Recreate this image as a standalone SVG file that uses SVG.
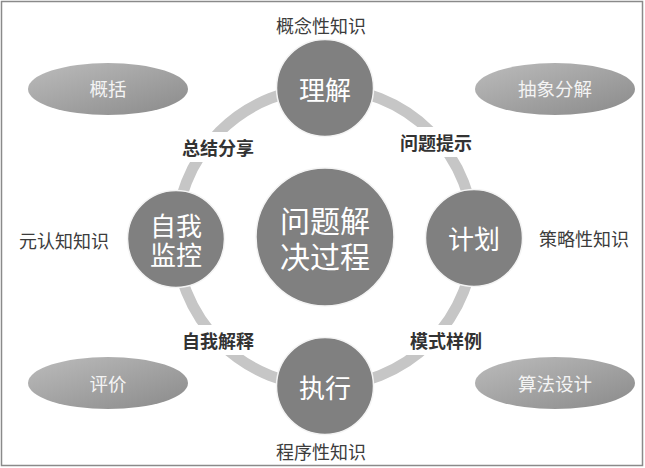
<svg xmlns="http://www.w3.org/2000/svg" width="645" height="468" viewBox="0 0 645 468">
  <style>
    text { font-family: "Noto Sans CJK SC", "Microsoft YaHei", sans-serif; text-anchor: middle; dominant-baseline: central; }
    .node { fill: #808080; stroke: #f4f4f4; stroke-width: 1.5; }
    .ntext { fill: #ffffff; font-size: 26px; }
    .ctext { fill: #ffffff; font-size: 30px; }
    .ell { fill: url(#eg); }
    .etext { fill: #f4f4f4; font-size: 18.5px; }
    .label { fill: #3c3c3c; font-size: 18px; }
    .elabel { fill: #333333; font-size: 18px; font-weight: bold; }
    .lbg { fill: #ffffff; }
    .ring { fill: none; stroke: #c6c6c6; stroke-width: 11; }
  </style>
  <defs>
    <linearGradient id="eg" x1="0" y1="0" x2="1" y2="1">
      <stop offset="0" stop-color="#bcbcbc"/>
      <stop offset="1" stop-color="#8a8a8a"/>
    </linearGradient>
  </defs>
  <rect x="0" y="0" width="645" height="468" fill="#ffffff"/>
  <rect x="1.5" y="1.5" width="641" height="464" fill="none" stroke="#8a8a8a" stroke-width="1.5"/>

  <g id="connectors">
    <circle class="ring" cx="325" cy="237" r="149"/>
    <rect class="lbg" x="178" y="132" width="80" height="30"/>
    <text class="elabel" x="218" y="147">总结分享</text>
    <rect class="lbg" x="396" y="127" width="80" height="30"/>
    <text class="elabel" x="436" y="142">问题提示</text>
    <rect class="lbg" x="178" y="325" width="80" height="30"/>
    <text class="elabel" x="218" y="340">自我解释</text>
    <rect class="lbg" x="406" y="325" width="80" height="30"/>
    <text class="elabel" x="446" y="340">模式样例</text>
  </g>

  <g id="center">
    <circle class="node" cx="325" cy="237" r="69"/>
    <text class="ctext" x="325" y="219"><tspan x="325">问题解</tspan><tspan x="325" dy="36">决过程</tspan></text>
  </g>

  <g id="understand">
    <circle class="node" cx="325" cy="88" r="48.5"/>
    <text class="ntext" x="325" y="88">理解</text>
  </g>
  <g id="plan">
    <circle class="node" cx="474" cy="238" r="48.5"/>
    <text class="ntext" x="474" y="237">计划</text>
  </g>
  <g id="execute">
    <circle class="node" cx="325" cy="386" r="48.5"/>
    <text class="ntext" x="325" y="386">执行</text>
  </g>
  <g id="monitor">
    <circle class="node" cx="176" cy="239" r="48.5"/>
    <text class="ntext" x="176" y="224"><tspan x="176">自我</tspan><tspan x="176" dy="29">监控</tspan></text>
  </g>

  <g id="generalize">
    <ellipse class="ell" cx="108" cy="89" rx="80" ry="26"/>
    <text class="etext" x="108" y="88">概括</text>
  </g>
  <g id="abstract">
    <ellipse class="ell" cx="555" cy="89" rx="80" ry="26"/>
    <text class="etext" x="555" y="88">抽象分解</text>
  </g>
  <g id="evaluate">
    <ellipse class="ell" cx="108" cy="383" rx="80" ry="26"/>
    <text class="etext" x="108" y="383">评价</text>
  </g>
  <g id="algorithm">
    <ellipse class="ell" cx="555" cy="383" rx="80" ry="26"/>
    <text class="etext" x="555" y="383">算法设计</text>
  </g>

  <g id="conceptual">
    <text class="label" x="321" y="25">概念性知识</text>
  </g>
  <g id="metacognitive">
    <text class="label" x="64" y="240">元认知知识</text>
  </g>
  <g id="strategic">
    <text class="label" x="584" y="238">策略性知识</text>
  </g>
  <g id="procedural">
    <text class="label" x="321" y="451">程序性知识</text>
  </g>
</svg>
